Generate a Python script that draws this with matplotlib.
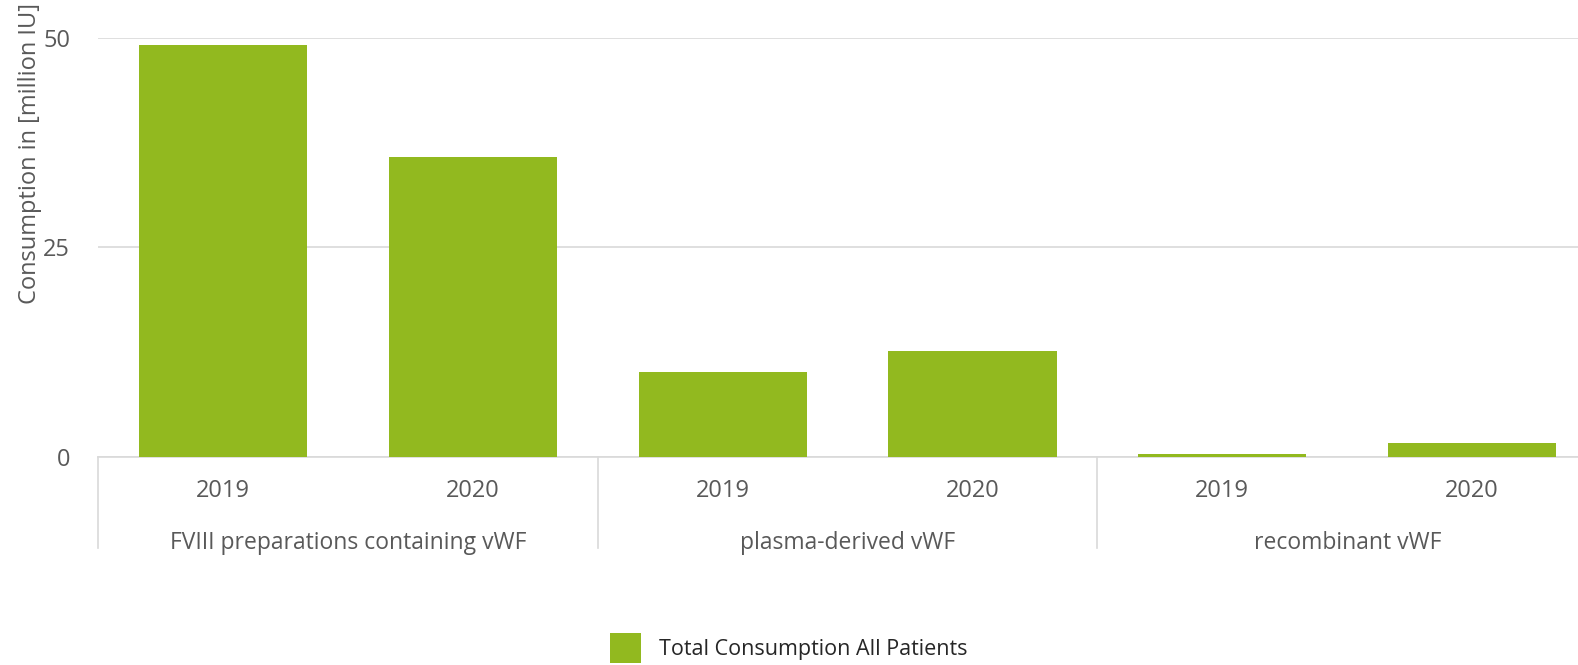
import matplotlib
matplotlib.use("Agg")
from matplotlib import pyplot as plt
import matplotlib.transforms as mtransforms

# data
groups = ["FVIII preparations containing vWF", "plasma-derived vWF", "recombinant vWF"]
years = ["2019", "2020"]
consumption = [49.2, 35.8, 10.1, 12.6, 0.35, 1.7]
series_name = "Total Consumption All Patients"

green = "#92b91f"
text_col = "#595959"
plt.rcParams["font.family"] = ["Open Sans", "DejaVu Sans"]

fig = plt.figure(figsize=(15.78, 6.65), dpi=100)
ax = fig.add_axes([0.0621, 0.313, 0.950, 0.630])

x = list(range(len(consumption)))
bars = ax.bar(x, consumption, width=0.673, color=green, label=series_name, zorder=3)

ax.set_xlim(-0.5, len(consumption) - 0.5)
ax.set_ylim(0, 50)
ax.set_yticks([0, 25, 50])
ax.grid(axis="y", color="#d9d9d9", linewidth=1.2, zorder=0)
ax.tick_params(axis="y", length=0, pad=20, labelsize=17, labelcolor=text_col)

ax.set_xticks(x)
ax.set_xticklabels(years * len(groups))
ax.tick_params(axis="x", length=0, pad=16, labelsize=17, labelcolor=text_col)

for s in ["top", "right", "left"]:
    ax.spines[s].set_visible(False)
ax.spines["bottom"].set_color("#d9d9d9")
ax.spines["bottom"].set_linewidth(1.2)

# group separators and labels under the axis
trans = mtransforms.blended_transform_factory(ax.transData, ax.transAxes)
for i in range(len(groups)):
    left = i * 2 - 0.5
    ax.plot([left, left], [0, -0.217], transform=trans, color="#d9d9d9",
            linewidth=1.2, clip_on=False)
    ax.text(i * 2 + 0.5, -0.205, groups[i], transform=trans, ha="center",
            va="center", fontsize=16.5, color=text_col)

fig.text(0.019, 1 - 153 / 665, "Consumption in [million IU]", rotation=90,
         ha="center", va="center", fontsize=17, color=text_col)

fig.legend(handles=[bars.patches[0]], labels=[series_name], loc="center left",
           bbox_to_anchor=(610 / 1578, 1 - 648 / 665), frameon=False,
           borderpad=0, borderaxespad=0,
           fontsize=15.5, handlelength=1.44, handleheight=1.7, handletextpad=0.85,
           labelcolor="#262626")

fig.savefig("out.png", dpi=100)
